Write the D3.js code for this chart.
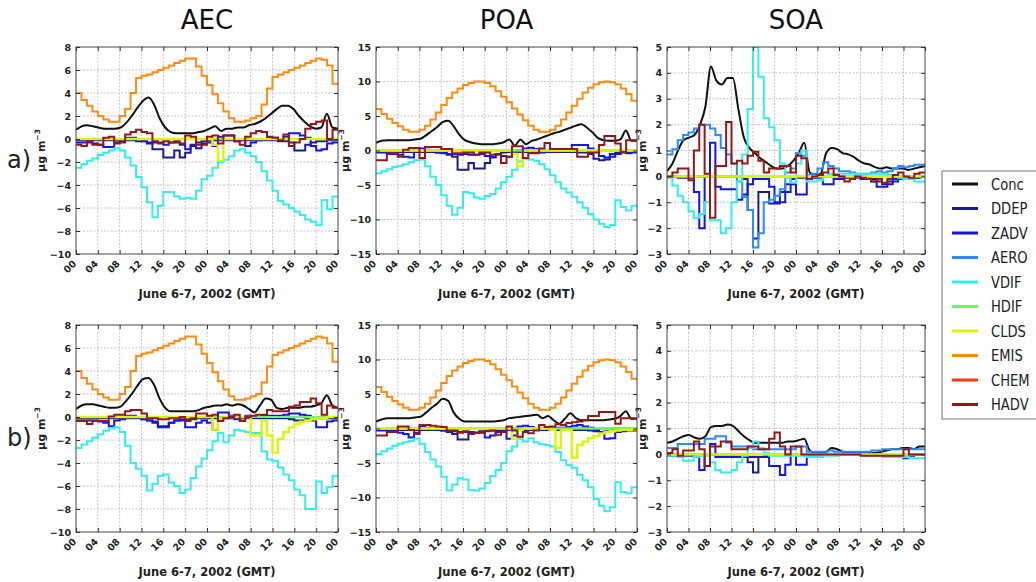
<!DOCTYPE html>
<html>
<head>
<meta charset="utf-8">
<script src="https://cdn.jsdelivr.net/npm/d3@7"></script>
<style>
  body { margin: 0; background: #fff; }
  svg { display: block; }
</style>
</head>
<body>
<svg id="chart" width="1036" height="582"></svg>
<script>
// ---- axis labels and categories ----
const species = ["AEC", "POA", "SOA"];
const rowTags = ["a)", "b)"];
const xTickHours = [0, 4, 8, 12, 16, 20, 24, 28, 32, 36, 40, 44, 48];
const xTickLabels = ["00", "04", "08", "12", "16", "20", "00", "04", "08", "12", "16", "20", "00"];
const xAxisTitle = "June 6-7, 2002 (GMT)";
const yDomains = [[-10, 8], [-15, 15], [-3, 5]];
const yTicksAEC = [-10, -8, -6, -4, -2, 0, 2, 4, 6, 8];
const yTicksPOA = [-15, -10, -5, 0, 5, 10, 15];
const yTicksSOA = [-3, -2, -1, 0, 1, 2, 3, 4, 5];
const seriesNames = ["Conc", "DDEP", "ZADV", "AERO", "VDIF", "HDIF", "CLDS", "EMIS", "CHEM", "HADV"];

// ---- hourly process contributions (µg m-3), June 6-7 ----
const flat48 = [
  0,0,0,0,0,0,0,0,0,0,0,0,
  0,0,0,0,0,0,0,0,0,0,0,0,
  0,0,0,0,0,0,0,0,0,0,0,0,
  0,0,0,0,0,0,0,0,0,0,0,0];

// AEC
const aecEmis = [
  4.0,3.4,2.9,2.4,2.0,1.7,1.5,1.5,2.0,2.6,4.0,5.3,
  5.5,5.6,5.8,6.0,6.2,6.4,6.6,6.8,7.0,7.0,6.3,5.5,
  4.7,3.9,3.1,2.4,1.8,1.5,1.5,1.6,1.8,2.0,3.0,4.4,
  5.4,5.6,5.8,6.0,6.2,6.4,6.6,6.8,7.0,6.9,6.4,4.8];
const aecA_conc = [
  0.8,1.1,1.2,1.1,1.0,0.9,0.9,0.9,1.0,1.4,2.0,2.7,
  3.3,3.6,3.0,1.8,1.0,0.6,0.5,0.5,0.5,0.5,0.6,0.7,
  0.9,1.1,0.7,0.9,0.9,1.0,1.0,1.2,1.3,1.5,1.8,2.2,
  2.6,2.9,2.9,2.6,2.0,1.5,1.1,0.9,1.0,2.2,1.0,0.9];
const aecA_ddep = [
  -0.1,-0.1,-0.1,-0.1,-0.1,-0.1,-0.1,-0.1,-0.1,-0.1,-0.1,-0.2,
  -0.2,-0.3,-0.9,-0.9,-1.6,-1.6,-1.0,-1.6,-1.2,-0.6,-0.3,-0.2,
  -0.1,-0.1,-0.1,-0.1,-0.1,-0.1,-0.1,-0.1,-0.1,-0.1,-0.1,-0.1,
  -0.1,-0.2,-0.2,-0.3,-1.0,-1.0,-0.5,-0.3,-0.2,-0.2,-0.1,-0.1];
const aecA_zadv = [
  -0.3,-0.3,-0.3,-0.4,-0.5,-0.7,-0.7,-0.3,-0.2,0.1,0.1,0.0,
  -0.2,-0.4,-0.3,-0.3,-0.5,-0.3,-0.3,-0.5,-0.9,-0.5,-0.8,-0.4,
  -0.3,-0.6,0.2,0.3,0.3,-0.2,-0.1,-0.6,-0.3,-0.1,0.0,0.1,
  0.1,0.0,0.2,0.5,0.5,0.3,0.1,-0.6,-1.0,-0.9,-0.4,-0.3];
const aecA_vdif = [
  -2.5,-2.2,-1.9,-1.7,-1.4,-1.2,-1.0,-0.8,-1.0,-1.6,-2.3,-3.3,
  -4.2,-5.5,-6.8,-5.8,-4.6,-4.6,-5.0,-5.2,-5.1,-5.2,-4.5,-3.5,
  -3.2,-2.5,-2.0,-1.8,-1.5,-1.0,-0.9,-1.2,-1.5,-2.0,-2.8,-3.6,
  -4.5,-5.4,-5.7,-6.0,-6.3,-6.6,-7.0,-7.2,-7.5,-5.3,-6.1,-5.0];
const aecA_clds = [
  0,0,0,0,0,0,0,0,0,0,0,0,
  0,0,0,0,0,0,0,0,0,0,0,0,
  0,-0.5,-1.9,0,0,0,0,0,0,0,0,0,
  0,0,0,0,0,0,0,0,0,0,0,0];
const aecA_hadv = [
  -0.5,-0.6,-0.2,-0.5,-0.5,0.1,0.2,-0.4,-0.3,0.4,0.6,0.8,
  0.6,0.5,-0.2,-0.4,-0.2,-0.3,-0.2,-0.4,0.3,0.2,-0.5,-0.5,
  0.2,0.3,-0.4,0.3,0.3,-0.2,-0.5,0.2,0.5,0.7,0.6,0.2,
  0.1,-0.1,0.4,-0.6,-0.3,0.0,0.9,1.3,1.5,1.6,0.0,0.8];

const aecB_conc = [
  0.7,1.0,1.1,1.1,1.0,0.9,0.8,0.8,0.9,1.4,2.0,2.7,
  3.3,3.4,2.8,1.6,0.8,0.5,0.5,0.5,0.5,0.5,0.6,0.8,
  0.9,1.0,1.0,1.1,1.0,1.1,1.0,0.7,0.4,1.0,1.6,1.5,
  0.8,0.7,0.8,0.8,0.8,0.9,0.9,1.0,1.2,1.9,1.0,0.8];
const aecB_ddep = [
  -0.1,-0.1,-0.1,-0.1,-0.1,-0.1,-0.1,-0.1,-0.1,-0.1,-0.1,-0.1,
  -0.2,-0.3,-0.5,-0.8,-0.8,-0.5,-0.3,-0.2,-0.2,-0.2,-0.1,-0.1,
  -0.1,-0.1,-0.1,-0.1,-0.1,-0.1,-0.1,-0.1,-0.1,-0.1,-0.1,-0.1,
  -0.1,-0.1,-0.1,-0.2,-0.3,-0.3,-0.2,-0.1,-0.1,-0.1,-0.1,-0.1];
const aecB_zadv = [
  -0.3,-0.3,-0.3,-0.3,-0.4,-0.5,-0.8,-0.3,-0.2,0.1,0.1,0.0,
  -0.2,-0.3,-0.4,-0.9,-0.9,-0.5,-0.3,-0.3,-0.9,-0.9,-0.5,-0.3,
  -0.5,-1.1,0.4,0.4,0.1,-0.2,-0.1,0.1,0.0,0.0,0.1,0.1,
  0.1,0.1,0.2,0.3,0.3,0.2,0.1,-0.3,-0.9,-0.9,-0.4,-0.3];
const aecB_vdif = [
  -2.7,-2.4,-2.1,-1.8,-1.5,-1.2,-1.0,-0.9,-1.3,-2.5,-4.0,-4.5,
  -5.1,-6.4,-5.8,-5.1,-5.0,-5.7,-6.0,-6.6,-6.3,-5.3,-4.3,-3.6,
  -2.9,-2.1,-1.4,-2.2,-1.6,-1.1,-1.2,-1.3,-1.4,-1.4,-3.0,-3.7,
  -3.8,-4.4,-5.0,-5.5,-6.3,-6.8,-8.0,-8.0,-5.6,-6.6,-6.1,-5.1];
const aecB_clds = [
  0,0,0,0,0,0,0,0,0,0,0,0,
  0,0,0,0,0,0,0,0,0,0,0,0,
  0,-1.1,-0.1,0,0,0,0,0,-1.6,-1.6,-0.3,-1.6,
  -3.1,-1.9,-1.3,-0.9,-0.6,-0.4,-0.3,-0.2,-0.1,-0.1,0,0];
const aecB_hadv = [
  -0.35,-0.35,-0.6,-0.35,-0.35,-0.35,0.05,0.2,0.2,0.5,0.6,0.6,
  0.3,-0.1,-0.1,-0.2,-0.2,-0.1,-0.1,0.0,-0.35,-0.1,0.3,0.3,
  0.1,0.2,-0.35,-0.1,0.0,0.2,-0.35,0.0,0.1,0.2,0.2,0.6,
  0.5,0.5,0.5,0.9,1.0,1.3,1.3,1.6,1.2,0.2,1.0,0.8];

// POA
const poaEmis = [
  6.0,5.3,4.6,4.0,3.5,3.0,2.7,2.7,3.0,3.6,4.5,5.5,
  6.6,7.6,8.4,9.0,9.5,9.8,10.0,10.0,9.8,9.3,8.6,7.8,
  7.0,6.1,5.2,4.4,3.6,3.0,2.7,2.7,3.0,3.6,4.5,5.5,
  6.5,7.5,8.4,9.1,9.6,9.9,10.0,9.9,9.6,9.0,8.2,7.2];
const poaA_conc = [
  1.1,1.4,1.5,1.5,1.5,1.5,1.5,1.6,1.7,2.2,2.8,3.4,
  4.1,4.3,3.5,2.3,1.5,1.2,1.0,0.9,0.9,0.9,1.0,1.2,
  1.6,0.7,1.6,0.9,1.4,1.6,1.9,2.2,2.5,2.7,3.0,3.3,
  3.6,3.8,3.3,2.6,1.8,1.5,1.4,1.4,1.6,2.9,1.4,1.4];
const poaA_ddep = [
  -0.2,-0.2,-0.2,-0.2,-0.2,-0.2,-0.2,-0.2,-0.2,-0.2,-0.2,-0.3,
  -0.4,-0.6,-0.9,-2.8,-2.8,-1.8,-2.6,-2.6,-1.8,-1.0,-0.5,-0.3,
  -0.2,-0.2,-0.2,-0.2,-0.2,-0.2,-0.2,-0.2,-0.2,-0.2,-0.2,-0.2,
  -0.2,-0.3,-0.3,-0.5,-1.2,-1.4,-1.3,-0.5,-0.3,-0.2,-0.2,-0.2];
const poaA_zadv = [
  -0.3,-0.3,-0.5,-0.5,-0.6,-0.9,-1.0,0.3,0.3,0.1,0.0,-0.3,
  -0.3,-0.5,-0.5,-0.6,-0.5,-0.6,-0.6,-0.5,-0.8,-0.9,-0.5,-0.8,
  -0.9,-0.5,0.0,0.3,0.4,0.2,-0.3,-0.2,0.0,0.1,0.1,0.2,
  0.8,0.8,0.8,0.3,0.0,-0.8,-1.0,-0.9,-0.5,-0.3,-0.4,-0.3];
const poaA_vdif = [
  -3.3,-3.0,-2.7,-2.4,-2.2,-2.0,-1.7,-1.4,-1.3,-2.3,-3.8,-5.0,
  -6.5,-8.0,-9.3,-8.3,-6.0,-6.2,-6.8,-7.0,-6.6,-6.3,-5.5,-4.6,
  -3.8,-2.8,-1.6,-1.2,-1.3,-1.5,-2.0,-2.7,-3.6,-4.6,-5.5,-6.1,
  -6.7,-7.5,-8.3,-9.2,-10.0,-10.6,-11.1,-10.8,-7.2,-8.2,-8.7,-8.0];
const poaA_clds = [
  0,0,0,0,0,0,0,0,0,0,0,0,
  0,0,0,0,0,0,0,0,0,0,0,0,
  0,-0.5,-2.3,0,0,0,0,0,0,0,0,0,
  0,0,0,0,0,0,0,0,0,0,0,0];
const poaA_hadv = [
  -1.4,-1.4,-0.4,-0.4,-0.9,0.1,0.35,0.35,-1.1,0.5,0.5,0.5,
  0.2,0.2,-0.4,-0.4,-0.3,-0.3,-0.6,-0.3,-0.3,-0.6,-0.6,-1.8,
  -0.9,0.6,0.6,-1.1,-0.4,-0.4,0.3,1.1,0.2,0.2,0.2,0.2,
  0.2,-0.9,-0.9,-0.3,-0.3,0.8,2.1,2.1,1.0,-0.2,1.5,1.5];

const poaB_conc = [
  1.0,1.3,1.5,1.5,1.5,1.5,1.5,1.6,1.7,2.3,3.0,3.6,
  4.3,4.0,2.3,1.4,1.0,1.0,1.0,1.0,1.0,1.0,1.1,1.2,
  1.5,1.6,1.7,1.8,1.9,2.0,1.5,1.8,1.2,0.7,1.4,2.2,
  1.5,1.2,1.2,1.2,1.2,1.2,1.3,1.4,1.8,2.5,1.4,1.4];
const poaB_ddep = [
  -0.2,-0.2,-0.2,-0.2,-0.2,-0.2,-0.2,-0.2,-0.2,-0.2,-0.2,-0.2,
  -0.3,-0.5,-0.8,-1.6,-1.6,-0.8,-0.6,-0.4,-0.3,-0.3,-0.2,-0.2,
  -0.2,-0.2,-0.2,-0.2,-0.2,-0.2,-0.2,-0.2,-0.2,-0.2,-0.2,-0.2,
  -0.2,-0.2,-0.2,-0.3,-0.4,-0.5,-0.4,-0.3,-0.2,-0.2,-0.2,-0.2];
const poaB_zadv = [
  -0.3,-0.3,-0.4,-0.5,-0.6,-0.8,-1.3,-0.6,0.3,0.1,0.0,-0.2,
  -0.3,-0.4,-0.4,-0.5,-0.5,-0.5,-0.6,-0.6,-1.3,-1.0,-0.5,-0.5,
  -1.5,-1.0,0.3,0.4,0.2,0.0,-0.2,-0.1,0.0,0.1,0.1,0.2,
  0.4,0.5,0.3,0.1,-0.2,-0.5,-1.5,-1.4,-0.5,-0.4,-0.3,-0.3];
const poaB_vdif = [
  -3.7,-3.3,-2.9,-2.5,-2.2,-2.0,-1.8,-1.5,-2.2,-3.4,-4.5,-5.5,
  -7.0,-9.0,-8.1,-7.2,-7.4,-8.9,-9.0,-8.7,-7.9,-6.9,-6.0,-5.0,
  -3.3,-2.6,-1.5,-1.9,-1.4,-2.0,-2.3,-2.4,-2.6,-3.4,-4.6,-5.3,
  -5.7,-6.7,-7.5,-8.5,-10.2,-11.2,-12.0,-11.4,-7.8,-9.2,-9.4,-8.5];
const poaB_clds = [
  0,0,0,0,0,0,0,0,0,0,0,0,
  0,0,0,0,0,0,0,0,0,0,0,0,
  0,-1.5,-0.2,0,0,0,0,0,-0.2,-2.8,-0.2,-0.2,
  -4.2,-2.4,-1.9,-1.4,-1.1,-0.7,-0.5,-0.4,-0.3,-0.2,-0.2,-0.1];
const poaB_hadv = [
  -1.0,-1.0,-0.5,-0.5,0.3,0.3,-0.2,-0.8,0.5,0.5,0.4,0.3,
  0.2,-0.3,-0.3,-0.6,-0.4,-0.8,-0.6,-0.5,-0.4,-0.3,-0.9,-0.5,
  0.3,-0.3,-1.2,-0.5,-0.7,-0.3,0.5,0.2,0.3,0.6,0.5,0.8,
  0.9,1.0,1.2,1.8,1.8,2.4,2.4,2.4,0.7,1.5,1.5,1.5];

// SOA
const soaA_conc = [
  0.2,0.5,1.0,1.4,1.5,1.6,2.0,2.7,4.25,3.7,3.55,3.8,
  3.8,2.6,1.5,1.1,0.9,0.7,0.55,0.4,0.3,0.3,0.4,0.6,
  0.9,1.3,0.15,0.05,0.1,0.9,1.1,1.05,0.9,0.85,0.75,0.6,
  0.5,0.45,0.35,0.3,0.35,0.3,0.3,0.3,0.25,0.3,0.35,0.4];
const soaA_ddep = [
  0,0,0,0,0,0,0,0,0,0,0,0,
  0,0,-0.1,-1.3,-2.4,-0.6,-0.6,-1.05,-1.05,-0.6,-0.3,-0.1,
  -0.05,-0.05,0,0,0,0,0,0,0,0,0,0,
  0,-0.05,-0.1,-0.2,-0.3,-0.3,-0.2,-0.1,-0.1,-0.1,-0.05,0];
const soaA_zadv = [
  0,0,-0.05,-0.05,-0.05,-0.6,-2.0,0.0,1.3,-0.4,-0.5,-0.5,
  -0.5,-0.9,-0.7,-0.3,-0.1,-0.1,-0.1,-0.4,-1.0,-1.0,-0.6,-0.3,
  -0.7,-0.7,-0.1,-0.05,-0.05,-0.3,-0.3,-0.1,-0.1,-0.05,-0.05,-0.05,
  -0.1,-0.1,-0.2,-0.4,-0.4,-0.2,-0.1,-0.1,-0.05,-0.05,-0.05,0];
const soaA_aero = [
  0.85,1.05,1.4,1.6,1.7,1.85,2.0,2.0,1.85,1.6,1.1,0.85,
  0.5,-0.2,-0.8,-1.3,-2.75,-2.2,-1.0,-0.9,-0.75,-0.5,0.15,0.3,
  0.9,0.8,0.05,0.1,0.3,0.55,0.4,0.3,0.2,0.2,0.15,0.1,
  0.1,0.1,0.15,0.2,0.15,0.2,0.3,0.4,0.35,0.4,0.45,0.45];
const soaA_vdif = [
  -0.05,-0.35,-0.75,-1.0,-1.35,-1.6,-1.45,-1.0,-1.7,-1.7,-2.2,-2.0,
  -1.0,-0.2,0.85,2.6,5.0,3.85,2.25,1.9,1.4,0.5,-0.05,-0.25,
  0.5,1.0,-0.2,-0.2,-0.15,0.0,0.1,0.1,0.1,0.1,0.1,0.1,
  0.1,0.1,0.1,0.1,0.1,0.05,0.0,-0.05,-0.1,-0.1,-0.2,-0.2];
const soaA_hadv = [
  0.0,0.15,0.3,0.3,-0.15,1.0,2.0,0.1,-1.6,0.4,0.4,2.1,
  0.5,0.6,0.5,0.8,0.95,0.6,0.15,0.3,0.3,0.4,0.4,0.15,
  0.8,0.7,-0.1,0.0,0.05,0.15,0.3,0.05,0.0,-0.2,-0.1,0.0,
  -0.05,-0.1,-0.2,-0.1,-0.25,-0.1,0.05,0.15,0.0,-0.05,0.1,0.15];

const soaB_conc = [
  0.45,0.5,0.6,0.7,0.75,0.65,0.6,0.7,1.05,1.1,1.1,1.15,
  1.1,0.9,0.7,0.55,0.45,0.45,0.45,0.45,0.45,0.45,0.5,0.5,
  0.55,0.6,0.15,0.05,0.05,0.1,0.25,0.2,0.1,0.05,0.05,0.05,
  0.05,0.05,0.05,0.1,0.15,0.2,0.2,0.25,0.25,0.2,0.3,0.3];
const soaB_ddep = [
  0,0,0,0,0,0,0,0,0,0,0,0,
  0,0,0,-0.3,-0.7,-0.1,-0.05,0,0,0,0,0,
  0,0,0,0,0,0,0,0,0,0,0,0,
  0,0,0,0,-0.05,-0.1,-0.1,-0.05,0,0,0,0];
const soaB_zadv = [
  -0.05,-0.05,-0.05,-0.05,-0.05,-0.1,-0.6,0.0,0.4,-0.1,-0.1,-0.1,
  -0.1,-0.1,-0.1,-0.1,-0.1,-0.1,-0.1,-0.45,-0.45,-0.8,-0.4,0.0,
  -0.4,-0.4,-0.05,0,0,0,0,0,0,0,0,0,
  0,0,0,0,0,-0.05,-0.05,-0.1,-0.15,-0.05,0,0];
const soaB_aero = [
  0.25,0.25,0.4,0.4,0.4,0.4,0.4,0.6,0.6,0.7,0.7,0.45,
  0.3,0.3,0.3,0.3,0.2,0.2,0.2,0.2,0.2,0.2,0.2,0.2,
  0.3,0.3,0.1,0.1,0.1,0.1,0.15,0.1,0.1,0.1,0.1,0.1,
  0.1,0.1,0.15,0.15,0.2,0.2,0.2,0.2,0.2,0.2,0.2,0.2];
const soaB_vdif = [
  -0.05,-0.05,-0.1,-0.25,-0.25,-0.1,-0.05,-0.05,-0.3,-0.6,-0.7,-0.7,
  -0.6,-0.3,-0.05,0.25,0.5,0.25,0.05,-0.05,-0.05,-0.05,-0.05,-0.05,
  -0.05,-0.05,-0.1,-0.1,-0.1,-0.05,-0.05,-0.05,0,0,0,0,
  0,-0.05,-0.05,-0.05,-0.1,-0.1,-0.1,-0.1,-0.1,-0.15,-0.15,-0.15];
const soaB_hadv = [
  0.05,0.2,-0.05,0.15,0.15,0.5,0.2,-0.45,0.3,0.3,0.5,0.5,
  0.2,0.2,0.2,0.3,0.3,0.2,0.2,0.6,0.85,0.3,0.0,0.3,
  0.3,0.0,0.0,0.0,0.0,0.0,0.0,0.0,0.0,0.0,0.0,0.0,
  -0.05,-0.05,-0.05,-0.05,-0.05,-0.05,-0.05,-0.05,0.2,0.0,0.0,0.0];

// ---- panel table: rows (a, b) x columns (AEC, POA, SOA); null = process not active ----
const panelSeries = [
  [
    [aecA_conc, aecA_ddep, aecA_zadv, flat48, aecA_vdif, flat48, aecA_clds, aecEmis, null, aecA_hadv],
    [poaA_conc, poaA_ddep, poaA_zadv, flat48, poaA_vdif, flat48, poaA_clds, poaEmis, null, poaA_hadv],
    [soaA_conc, soaA_ddep, soaA_zadv, soaA_aero, soaA_vdif, flat48, flat48, null, null, soaA_hadv]
  ],
  [
    [aecB_conc, aecB_ddep, aecB_zadv, flat48, aecB_vdif, flat48, aecB_clds, aecEmis, null, aecB_hadv],
    [poaB_conc, poaB_ddep, poaB_zadv, flat48, poaB_vdif, flat48, poaB_clds, poaEmis, null, poaB_hadv],
    [soaB_conc, soaB_ddep, soaB_zadv, soaB_aero, soaB_vdif, flat48, flat48, null, null, soaB_hadv]
  ]
];
const yTickSets = [yTicksAEC, yTicksPOA, yTicksSOA];

// ---- styling and layout ----
const seriesColor = {
  Conc: "#111111", DDEP: "#1c1c8c", ZADV: "#1414f0", AERO: "#2a8cff", VDIF: "#33eeea",
  HDIF: "#6cf56c", CLDS: "#dcf500", EMIS: "#ff8c10", CHEM: "#ff3a10", HADV: "#951818"
};
const colX = [[76, 338], [376, 637], [667, 925]];
const rowY = [[47, 254], [325, 532]];
const yLabelOffset = [31, 27, 21];
const TICK_FONT = "DejaVu Sans, sans-serif";

const svg = d3.select("#chart");

// column titles
species.forEach((s, c) => {
  svg.append("text")
    .attr("x", (colX[c][0] + colX[c][1]) / 2)
    .attr("y", 29)
    .attr("text-anchor", "middle")
    .attr("font-family", "DejaVu Sans, sans-serif")
    .attr("font-size", 26)
    .attr("fill", "#111")
    .text(s);
});

// row tags
rowTags.forEach((t, r) => {
  svg.append("text")
    .attr("x", 7)
    .attr("y", r === 0 ? 168 : 446)
    .attr("font-family", "DejaVu Sans, sans-serif")
    .attr("font-size", 24)
    .attr("fill", "#222")
    .text(t);
});

function drawPanel(r, c) {
  const [x0, x1] = colX[c];
  const [y0, y1] = rowY[r];
  const x = d3.scaleLinear().domain([0, 48]).range([x0, x1]);
  const y = d3.scaleLinear().domain(yDomains[c]).range([y1, y0]);
  const g = svg.append("g");
  const clipId = `clip-${r}-${c}`;

  g.append("clipPath").attr("id", clipId)
    .append("rect").attr("x", x0).attr("y", y0).attr("width", x1 - x0).attr("height", y1 - y0);

  // grid
  const grid = g.append("g").attr("stroke", "#c6c6c6").attr("stroke-width", 1).attr("stroke-dasharray", "2,1.5");
  grid.selectAll("line.v").data(xTickHours.slice(1, -1)).join("line")
    .attr("x1", d => x(d)).attr("x2", d => x(d)).attr("y1", y0).attr("y2", y1);
  grid.selectAll("line.h").data(yTickSets[c].slice(1, -1)).join("line")
    .attr("y1", d => y(d)).attr("y2", d => y(d)).attr("x1", x0).attr("x2", x1);

  // series, drawn in legend order
  const stepLine = d3.line().x(d => x(d[0])).y(d => y(d[1])).curve(d3.curveStepAfter);
  const smoothLine = d3.line().x(d => x(d[0])).y(d => y(d[1])).curve(d3.curveMonotoneX);
  const lines = g.append("g").attr("clip-path", `url(#${clipId})`).attr("fill", "none");
  panelSeries[r][c].forEach((vals, k) => {
    if (!vals) return;
    const name = seriesNames[k];
    let pts, gen;
    if (name === "Conc") {
      pts = vals.map((v, i) => [i * 48 / (vals.length - 1), v]);
      gen = smoothLine;
    } else {
      pts = vals.map((v, i) => [i, v]);
      pts.push([48, vals[vals.length - 1]]);
      gen = stepLine;
    }
    lines.append("path")
      .attr("d", gen(pts))
      .attr("stroke", seriesColor[name])
      .attr("stroke-width", name === "CLDS" ? 2.4 : 2)
      .attr("stroke-linejoin", "miter");
  });

  // frame
  g.append("rect").attr("x", x0).attr("y", y0).attr("width", x1 - x0).attr("height", y1 - y0)
    .attr("fill", "none").attr("stroke", "#444").attr("stroke-width", 1);

  // y axis
  const yAxis = g.append("g").attr("transform", `translate(${x0},0)`)
    .call(d3.axisLeft(y).tickValues(yTickSets[c]).tickSizeInner(-4).tickSizeOuter(0).tickPadding(5).tickFormat(d3.format("d")));
  yAxis.select(".domain").remove();
  yAxis.selectAll("line").attr("stroke", "#333");
  yAxis.selectAll("text").attr("font-family", TICK_FONT).attr("font-weight", "bold").attr("font-size", 9.5).attr("fill", "#222");
  const yAxisR = g.append("g").attr("transform", `translate(${x1},0)`)
    .call(d3.axisRight(y).tickValues(yTickSets[c]).tickSizeInner(-4).tickSizeOuter(0).tickFormat(""));
  yAxisR.select(".domain").remove();
  yAxisR.selectAll("line").attr("stroke", "#333");

  // x axis
  const xAxis = g.append("g").attr("transform", `translate(0,${y1})`)
    .call(d3.axisBottom(x).tickValues(xTickHours).tickSizeInner(-4).tickSizeOuter(0).tickFormat((d, i) => xTickLabels[i]));
  xAxis.select(".domain").remove();
  xAxis.selectAll("line").attr("stroke", "#333");
  xAxis.selectAll("text")
    .attr("x", 0).attr("y", 0).attr("dy", "0.35em")
    .attr("text-anchor", "end")
    .attr("transform", "translate(-2,8) rotate(-45)")
    .attr("font-family", TICK_FONT).attr("font-weight", "bold").attr("font-size", 9.5).attr("fill", "#222");
  const xAxisT = g.append("g").attr("transform", `translate(0,${y0})`)
    .call(d3.axisTop(x).tickValues(xTickHours).tickSizeInner(-4).tickSizeOuter(0).tickFormat(""));
  xAxisT.select(".domain").remove();
  xAxisT.selectAll("line").attr("stroke", "#333");

  // y label
  const yl = g.append("text")
    .attr("transform", `translate(${x0 - yLabelOffset[c]},${(y0 + y1) / 2}) rotate(-90)`)
    .attr("text-anchor", "middle")
    .attr("font-family", TICK_FONT).attr("font-weight", "bold").attr("font-size", 11).attr("fill", "#222");
  yl.append("tspan").text("μg m");
  yl.append("tspan").attr("dy", -5).attr("font-size", 7.5).text("−3");

  // x label
  g.append("text")
    .attr("x", (x0 + x1) / 2).attr("y", r === 0 ? 298 : 576)
    .attr("text-anchor", "middle")
    .attr("font-family", TICK_FONT).attr("font-weight", "bold").attr("font-size", 11.5).attr("fill", "#222")
    .text(xAxisTitle);
}

for (let r = 0; r < 2; r++) for (let c = 0; c < 3; c++) drawPanel(r, c);

// legend
const lg = svg.append("g");
lg.append("rect").attr("x", 942).attr("y", 171).attr("width", 120).attr("height", 248)
  .attr("fill", "#fff").attr("stroke", "#777").attr("stroke-width", 1);
seriesNames.forEach((n, i) => {
  const yy = 184 + i * 24.5;
  lg.append("line").attr("x1", 952).attr("x2", 978).attr("y1", yy).attr("y2", yy)
    .attr("stroke", seriesColor[n]).attr("stroke-width", 3);
  lg.append("text")
    .attr("transform", `translate(991,${yy}) scale(0.82,1)`)
    .attr("dy", "0.36em")
    .attr("font-family", "DejaVu Sans, sans-serif").attr("font-size", 16).attr("fill", "#222")
    .text(n);
});
</script>
</body>
</html>
